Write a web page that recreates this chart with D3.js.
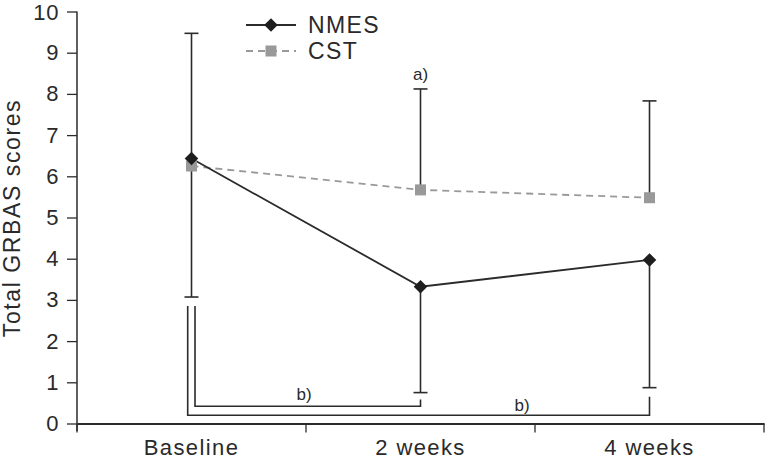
<!DOCTYPE html>
<html><head><meta charset="utf-8">
<script src="https://cdn.jsdelivr.net/npm/d3@7"></script>
<style>body{margin:0;background:#fff}svg{display:block}text{font-family:"Liberation Sans",Arial,sans-serif;fill:#2a2a2a}</style>
</head><body><svg id="c" width="765" height="462"></svg>
<script>
const categories = ["Baseline", "2 weeks", "4 weeks"];
const nmes = [6.43, 3.32, 3.97];
const cst = [6.25, 5.67, 5.48];
const nmesLow = [3.07, 0.75, 0.87];
const nmesHigh = [9.47, null, null];
const cstHigh = [null, 8.12, 7.83];
const yTicks = [0,1,2,3,4,5,6,7,8,9,10];
const seriesNames = ["NMES", "CST"];
const bracketLabels = ["b)", "b)"];
const starLabel = "a)";

const svg = d3.select("#c");
const x = d3.scaleBand().domain(categories).range([77, 764]);
const y = d3.scaleLinear().domain([0, 10]).range([423.5, 11.5]);
const cx = c => x(c) + x.bandwidth()/2;
const ink = "#2b2b2b";
const FF = "'Liberation Sans',Arial,sans-serif";

// axes
const ya = svg.append("g").attr("transform","translate(77,0)")
  .call(d3.axisLeft(y).tickValues(yTicks).tickSize(10).tickPadding(8));
ya.select(".domain").attr("stroke",ink).attr("stroke-width",1.5).attr("d","M0,11.5V431");
ya.selectAll(".tick line").attr("stroke",ink).attr("stroke-width",1.3);
ya.selectAll(".tick text").attr("font-size",22).attr("fill",ink).style("font-family",FF).style("letter-spacing","0.6px")
  .attr("dy", d => d === 10 ? "0.38em" : "0.32em");

const xa = svg.append("g").attr("transform","translate(0,"+y(0)+")")
  .call(d3.axisBottom(x).tickSize(0).tickPadding(16));
xa.select(".domain").attr("stroke",ink).attr("stroke-width",2);
xa.selectAll(".tick text").attr("font-size",22).attr("fill",ink).style("font-family",FF).style("letter-spacing","1.4px");
const edges = [x.range()[0]].concat(categories.map(c => x(c)+x.bandwidth()));
svg.append("g").selectAll("line").data(edges).join("line")
  .attr("x1",d=>d).attr("x2",d=>d).attr("y1",y(0)).attr("y2",y(0)+9)
  .attr("stroke",ink).attr("stroke-width",1.3);

// y label
svg.append("text").attr("transform","translate(20,218) rotate(-90)")
  .attr("text-anchor","middle").attr("font-size",23).attr("fill",ink)
  .style("letter-spacing","1.6px").text("Total GRBAS scores");

// error bars
function ebar(i, v, e){
  if (e==null) return;
  const g = svg.append("g").attr("stroke",ink).attr("stroke-width",1.6);
  const c = cx(categories[i]);
  g.append("line").attr("x1",c).attr("x2",c).attr("y1",y(v)).attr("y2",y(e));
  g.append("line").attr("x1",c-7).attr("x2",c+7).attr("y1",y(e)).attr("y2",y(e));
}
categories.forEach((c,i)=>{ ebar(i,cst[i],cstHigh[i]); ebar(i,nmes[i],nmesHigh[i]); ebar(i,nmes[i],nmesLow[i]); });

// significance brackets (baseline vs 2 weeks, baseline vs 4 weeks)
const brk = [
  {x0: cx(categories[0]) + 3.5, to: 1, level: 0.42, top: y(nmesLow[1]) + 7, lx: 304, ly: 400},
  {x0: cx(categories[0]) - 3.8, to: 2, level: 0.2, top: y(nmesLow[2]) + 9, lx: 522, ly: 411}
];
brk.forEach((b,k)=>{
  const x1 = cx(categories[b.to]);
  svg.append("path").attr("fill","none").attr("stroke",ink).attr("stroke-width",1.6)
    .attr("d",`M${b.x0},${y(2.85)}V${y(b.level)}H${x1}V${b.top}`);
  svg.append("text").attr("x",b.lx).attr("y",b.ly).attr("text-anchor","middle")
    .attr("font-size",17).attr("fill",ink).text(bracketLabels[k]);
});

// a) label
svg.append("text").attr("x",cx(categories[1])).attr("y",y(cstHigh[1])-9).attr("text-anchor","middle")
  .attr("font-size",17).attr("fill",ink).text(starLabel);

// lines
const line = d3.line().x((d,i)=>cx(categories[i])).y(d=>y(d));
svg.append("path").datum(cst).attr("d",line).attr("fill","none").attr("stroke","#999")
  .attr("stroke-width",1.8).attr("stroke-dasharray","7,5");
svg.append("path").datum(nmes).attr("d",line).attr("fill","none").attr("stroke",ink).attr("stroke-width",1.8);

// markers
svg.append("g").selectAll("rect").data(cst).join("rect")
  .attr("x",(d,i)=>cx(categories[i])-5.5).attr("y",d=>y(d)-5.5).attr("width",11).attr("height",11).attr("fill","#999");
const sq = d3.symbol().type(d3.symbolSquare).size(92);
svg.append("g").selectAll("path").data(nmes).join("path")
  .attr("d", sq).attr("transform",(d,i)=>`translate(${cx(categories[i])},${y(d)}) rotate(45)`)
  .attr("fill","#1e1e1e");

// legend
const lg = svg.append("g");
const ly = [25, 51];
lg.append("line").attr("x1",246).attr("x2",296).attr("y1",ly[0]).attr("y2",ly[0]).attr("stroke",ink).attr("stroke-width",1.8);
lg.append("path").attr("d",sq).attr("transform",`translate(271,${ly[0]}) rotate(45)`).attr("fill","#1e1e1e");
lg.append("line").attr("x1",246).attr("x2",296).attr("y1",ly[1]).attr("y2",ly[1]).attr("stroke","#999").attr("stroke-width",1.8).attr("stroke-dasharray","7,5");
lg.append("rect").attr("x",265.5).attr("y",ly[1]-5.5).attr("width",11).attr("height",11).attr("fill","#999");
seriesNames.forEach((n,i)=>lg.append("text").attr("x",308).attr("y",ly[i]).attr("dy","0.36em")
  .attr("font-size",23).attr("fill",ink).style("letter-spacing","1.4px").text(n));
</script></body></html>
